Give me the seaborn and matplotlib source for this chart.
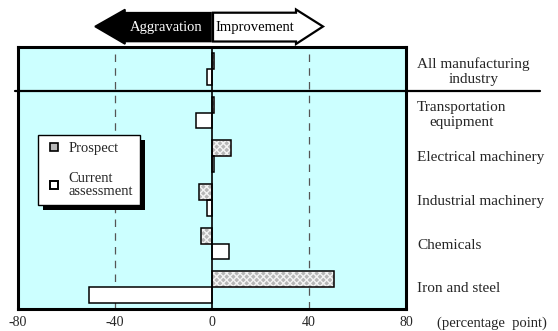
import matplotlib
matplotlib.use('Agg')
import matplotlib.pyplot as plt
from matplotlib.patches import Polygon, Rectangle
from matplotlib.lines import Line2D
import pandas as pd
import seaborn as sns

# data (percentage points)
industries = ['All manufacturing\nindustry', 'Transportation\nequipment', 'Electrical machinery',
              'Industrial machinery', 'Chemicals', 'Iron and steel']
prospect = [1.0, 0.8, 7.8, -5.2, -4.5, 50.2]
current = [-2.2, -6.6, 0.8, -2.2, 6.9, -50.6]
series_names = ['Prospect', 'Current\nassessment']
x_ticks = [-80, -40, 0, 40, 80]

df = pd.DataFrame({
    'industry': industries * 2,
    'series': [series_names[0]] * len(industries) + [series_names[1]] * len(industries),
    'value': prospect + current,
})

sns.set_theme(style='white')
plt.rcParams['font.family'] = ['Liberation Serif', 'DejaVu Serif']
plt.rcParams['font.size'] = 10.5

W, H = 558, 331
fig = plt.figure(figsize=(W / 100, H / 100), dpi=100)
ax = fig.add_axes([18 / W, 1 - 309 / H, 388 / W, 262 / H])
ax.set_facecolor('#ccffff')

sns.barplot(data=df, y='industry', x='value', hue='series', orient='h', order=industries,
            hue_order=series_names, palette=['#b8b8b8', 'white'], width=0.73,
            edgecolor='black', linewidth=1.1, saturation=1, legend=False, ax=ax, zorder=3)

# hatch the prospect bars: light hatch lines, black outline drawn on top
n = len(industries)
for bar in ax.patches[:n]:
    bar.set_hatch('xxxxx')
    bar.set_edgecolor('#f4f4f4')
    bar.set_linewidth(0.6)
    ax.add_patch(Rectangle(bar.get_xy(), bar.get_width(), bar.get_height(), facecolor='none',
                           edgecolor='black', lw=1.1, zorder=3.5))

ax.set_xlim(-80, 80)
ax.set_ylim(len(industries) - 0.5, -0.5)
ax.set_xticks(x_ticks)
ax.set_xticklabels([str(t) for t in x_ticks], fontsize=10)
ax.tick_params(axis='x', length=0, pad=5)
ax.set_xlabel('')
ax.set_ylabel('')

# category labels on the right side
ax.yaxis.tick_right()
ax.tick_params(axis='y', length=0, pad=8, labelsize=11)
for lab in ax.get_yticklabels():
    lab.set_multialignment('center')

# grid lines and zero line
for xv in [-40, 40]:
    ax.axvline(xv, color='#555555', lw=0.9, ls=(0, (6, 5)), zorder=1)
ax.axvline(0, color='black', lw=1.2, zorder=4)

for sp in ax.spines.values():
    sp.set_visible(True)
    sp.set_color('black')
    sp.set_linewidth(2.2)

# separator between the total and the individual industries
ax.plot([-0.008, 1.345], [0.5, 0.5], transform=ax.get_yaxis_transform(),
        color='black', lw=1.6, clip_on=False, zorder=5)

fig.text(492 / W, 1 - 323 / H, '(percentage  point)', ha='center', va='center', fontsize=10.5)

# legend with a hard black shadow
handles = [Line2D([], [], ls='none', marker='s', markersize=6, markerfacecolor='#b8b8b8',
                  markeredgecolor='black', markeredgewidth=1.2),
           Line2D([], [], ls='none', marker='s', markersize=6, markerfacecolor='white',
                  markeredgecolor='black', markeredgewidth=1.4)]
leg = ax.legend(handles, series_names, loc='upper left', bbox_to_anchor=(0.0515, 0.664),
                borderaxespad=0, frameon=True, fancybox=False, edgecolor='black',
                framealpha=1, handlelength=1.3, handletextpad=0.35,
                labelspacing=1.2, borderpad=0.45, fontsize=10.5)
for t in leg.get_texts():
    t.set_linespacing(1.0)
leg.get_frame().set_linewidth(1.0)
leg.set_zorder(10)
fig.canvas.draw()
bb = leg.get_window_extent()
ax.add_patch(Rectangle((bb.x0 + 5, bb.y0 - 5), bb.width, bb.height, transform=None,
                       facecolor='black', edgecolor='none', zorder=9))

# direction arrows above the plot (pixel coordinates)
def px(pts):
    return [(x / W, 1 - y / H) for x, y in pts]

left_arrow = px([(95, 26.5), (125, 9.5), (125, 12.7), (211, 12.7), (211, 41.5), (125, 41.5), (125, 44)])
right_arrow = px([(213, 12.7), (296, 12.7), (296, 9.5), (323, 26.5), (296, 44), (296, 41.5), (213, 41.5)])
fig.add_artist(Polygon(left_arrow, closed=True, facecolor='black', edgecolor='black', lw=1.2,
                       transform=fig.transFigure))
fig.add_artist(Polygon(right_arrow, closed=True, facecolor='white', edgecolor='black', lw=1.6,
                       transform=fig.transFigure))
fig.text(166 / W, 1 - 27 / H, 'Aggravation', color='white', ha='center', va='center', fontsize=10.5)
fig.text(255 / W, 1 - 27 / H, 'Improvement', color='black', ha='center', va='center', fontsize=10.5)

fig.savefig('out.png', dpi=100, facecolor='white')
